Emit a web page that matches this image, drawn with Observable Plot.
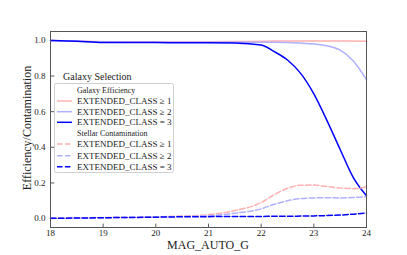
<!DOCTYPE html>
<html><head><meta charset="utf-8">
<script src="https://cdn.jsdelivr.net/npm/d3@7"></script>
<script src="https://cdn.jsdelivr.net/npm/@observablehq/plot@0.6"></script>
<style>body{margin:0;background:#fff}</style>
</head><body><div id="chart"></div>
<script>
const mag   = [18, 18.5, 19, 19.5, 20, 20.5, 21, 21.5, 22, 22.25, 22.5, 22.75, 23, 23.25, 23.5, 23.75, 24];
const effC1 = [1.0, 0.996, 0.993, 0.992, 0.992, 0.992, 0.993, 0.994, 0.995, 0.996, 0.996, 0.997, 0.997, 0.997, 0.996, 0.996, 0.995];
const effC2 = [1.0, 0.996, 0.991, 0.99, 0.99, 0.99, 0.99, 0.99, 0.99, 0.99, 0.988, 0.985, 0.98, 0.97, 0.945, 0.885, 0.78];
const effC3 = [1.0, 0.995, 0.988, 0.988, 0.988, 0.987, 0.987, 0.986, 0.974, 0.937, 0.89, 0.815, 0.70, 0.55, 0.388, 0.23, 0.128];
const conC1 = [0.002, 0.003, 0.005, 0.007, 0.01, 0.014, 0.022, 0.045, 0.09, 0.135, 0.17, 0.187, 0.188, 0.18, 0.172, 0.168, 0.178];
const conC2 = [0.002, 0.003, 0.005, 0.007, 0.009, 0.012, 0.016, 0.03, 0.055, 0.08, 0.1, 0.112, 0.116, 0.117, 0.116, 0.118, 0.124];
const conC3 = [0.002, 0.003, 0.005, 0.006, 0.008, 0.01, 0.011, 0.012, 0.012, 0.013, 0.013, 0.014, 0.015, 0.017, 0.02, 0.025, 0.032];
const seriesLabels = ["EXTENDED_CLASS ≥ 1", "EXTENDED_CLASS ≥ 2", "EXTENDED_CLASS = 3"];
const xTicks = [18, 19, 20, 21, 22, 23, 24];
const yTicks = [0.0, 0.2, 0.4, 0.6, 0.8, 1.0];
const xDomain = [18, 24];
const yDomain = [-0.05, 1.05];

const colors = ["#ffb0b0", "#b0b0ff", "#0000ff"];
const series = [
  {values: effC1, color: colors[0], dash: null},
  {values: effC2, color: colors[1], dash: null},
  {values: effC3, color: colors[2], dash: null},
  {values: conC1, color: colors[0], dash: "5.5,2.4"},
  {values: conC2, color: colors[1], dash: "5.5,2.4"},
  {values: conC3, color: colors[2], dash: "5.5,2.4"}
];
const font = "'Liberation Serif', 'DejaVu Serif', serif";
const tickShape = {draw(ctx, l) { ctx.moveTo(0, 0); ctx.lineTo(0, -l); }};

const chart = Plot.plot({
  width: 407, height: 255,
  marginLeft: 50, marginRight: 41, marginTop: 31, marginBottom: 28,
  style: {fontFamily: font, fontSize: "9px", background: "#fff", color: "#222"},
  x: {domain: xDomain},
  y: {domain: yDomain},
  marks: [
    Plot.axisX({ticks: xTicks, tickSize: 0, tickPadding: 2, tickFormat: d => d3.format("d")(d), label: null}),
    Plot.axisY({ticks: yTicks, tickSize: 0, tickPadding: 5, tickFormat: d => d3.format(".1f")(d), label: null}),
    Plot.vector(xTicks, {x: d => d, y: () => yDomain[0], length: 3.5, rotate: 0, anchor: "start", shape: tickShape, stroke: "#333", strokeWidth: 0.8}),
    Plot.vector(yTicks, {y: d => d, x: () => xDomain[0], length: 3.5, rotate: 90, anchor: "start", shape: tickShape, stroke: "#333", strokeWidth: 0.8}),
    ...series.map(s => Plot.line(s.values, {x: mag, y: s.values, stroke: s.color, strokeWidth: 1.5, strokeDasharray: s.dash, curve: "monotone-x"})),
    Plot.frame({stroke: "#555", strokeWidth: 1})
  ]
});
document.getElementById("chart").append(chart);

const svg = d3.select(chart);
svg.append("text").attr("transform", "translate(27,128) rotate(-90)")
  .attr("text-anchor", "middle").attr("dominant-baseline", "central")
  .style("font-family", font).style("font-size", "12px").attr("fill", "#222")
  .text("Efficiency/Contamination");
svg.append("text").attr("x", 208).attr("y", 245)
  .attr("text-anchor", "middle").attr("dominant-baseline", "central")
  .style("font-family", font).style("font-size", "12px").attr("fill", "#222")
  .text("MAG_AUTO_G");

// legend
const lg = svg.append("g").style("font-family", font).attr("fill", "#222").attr("text-anchor", "start");
lg.append("text").attr("x", 63).attr("y", 76).attr("dominant-baseline", "central")
  .style("font-size", "10px").text("Galaxy Selection");
lg.append("rect").attr("x", 54.5).attr("y", 83.5).attr("width", 119).attr("height", 89)
  .attr("rx", 2).attr("fill", "rgba(255,255,255,0.8)").attr("stroke", "#d0d0d0");
const rowY = [90, 101, 111.7, 122.3, 133.3, 144, 155.7, 166.7];
const entries = [
  {head: "Galaxy Efficiency"},
  {s: 0, t: seriesLabels[0]}, {s: 1, t: seriesLabels[1]}, {s: 2, t: seriesLabels[2]},
  {head: "Stellar Contamination"},
  {s: 3, t: seriesLabels[0]}, {s: 4, t: seriesLabels[1]}, {s: 5, t: seriesLabels[2]}
];
entries.forEach((e, i) => {
  const y = rowY[i];
  if (e.head) {
    lg.append("text").attr("x", 77).attr("y", y).attr("dominant-baseline", "central")
      .attr("text-anchor", "start").style("font-size", "8px").text(e.head);
  } else {
    const s = series[e.s];
    lg.append("line").attr("x1", 57).attr("x2", 72).attr("y1", y).attr("y2", y)
      .attr("stroke", s.color).attr("stroke-width", 1.5).attr("stroke-dasharray", s.dash);
    lg.append("text").attr("x", 77).attr("y", y).attr("dominant-baseline", "central")
      .attr("text-anchor", "start").style("font-size", "9px").text(e.t);
  }
});
</script>
</body></html>
